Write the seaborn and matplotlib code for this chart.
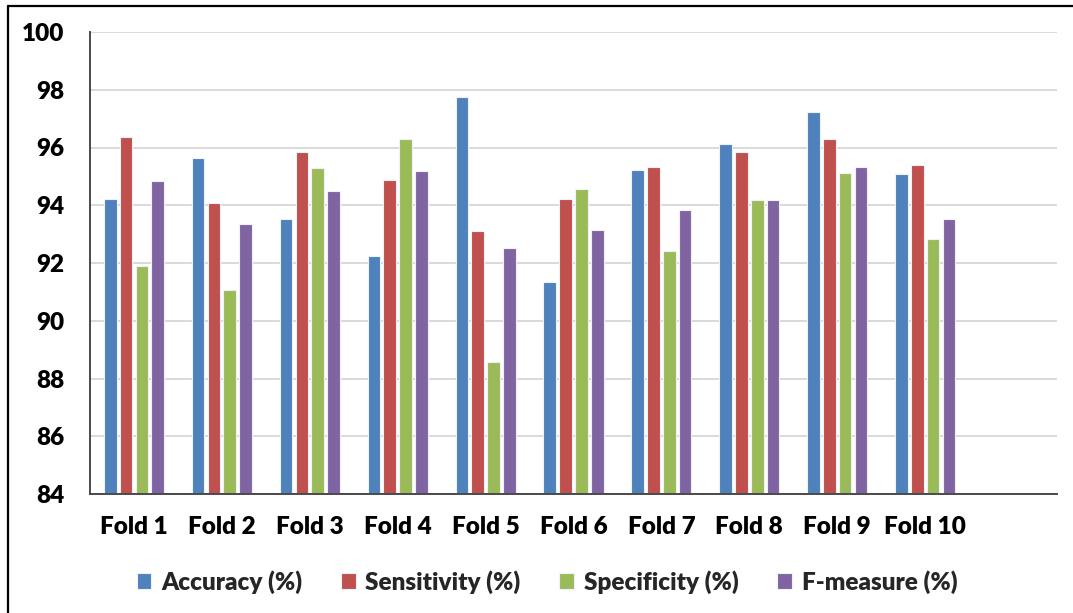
import matplotlib
matplotlib.use("Agg")
import matplotlib.pyplot as plt
from matplotlib.lines import Line2D
import pandas as pd
import seaborn as sns

# Per-fold cross-validation results (%)
folds = ["Fold 1", "Fold 2", "Fold 3", "Fold 4", "Fold 5",
         "Fold 6", "Fold 7", "Fold 8", "Fold 9", "Fold 10"]
accuracy = [94.23, 95.62, 93.51, 92.23, 97.74, 91.33, 95.23, 96.12, 97.24, 95.07]
sensitivity = [96.36, 94.08, 95.84, 94.89, 93.11, 94.23, 95.34, 95.84, 96.29, 95.40]
specificity = [91.90, 91.06, 95.29, 96.29, 88.58, 94.56, 92.40, 94.18, 95.12, 92.84]
f_measure = [94.84, 93.35, 94.51, 95.17, 92.51, 93.13, 93.85, 94.18, 95.34, 93.51]

metrics = ["Accuracy (%)", "Sensitivity (%)", "Specificity (%)", "F-measure (%)"]
colors = ["#4F81BD", "#C0504D", "#9BBB59", "#8064A2"]
y_ticks = [84, 86, 88, 90, 92, 94, 96, 98, 100]

df = pd.DataFrame({
    "fold": folds * 4,
    "metric": [m for m in metrics for _ in folds],
    "value": accuracy + sensitivity + specificity + f_measure,
})

sns.set_theme(style="white")
plt.rcParams["font.family"] = ["Lato", "DejaVu Sans"]
WEIGHT = "heavy"

fig = plt.figure(figsize=(10.73, 6.13), dpi=100)
ax = fig.add_axes([90 / 1073, 1 - 494 / 613, (1057 - 90) / 1073, (494 - 32) / 613])

sns.barplot(data=df, x="fold", y="value", hue="metric", order=folds,
            hue_order=metrics, palette=colors, width=0.72, gap=0.2,
            edgecolor="#EEF2F8", linewidth=0.8, saturation=1, ax=ax,
            zorder=3)

ax.set_xlim(-0.5, 10.5)
ax.set_ylim(84, 100)
ax.set_yticks(y_ticks)
ax.set_yticklabels([str(t) for t in y_ticks])
ax.set_xlabel("")
ax.set_ylabel("")

ax.grid(axis="y", color="#D9D9D9", linewidth=1.4, zorder=0)
ax.grid(axis="x", visible=False)
for side in ["top", "right"]:
    ax.spines[side].set_visible(False)
for side in ["left", "bottom"]:
    ax.spines[side].set_color("#4A4A4A")
    ax.spines[side].set_linewidth(1.4)
    ax.spines[side].set_zorder(4)

ax.tick_params(axis="y", length=0, pad=18.5, labelsize=17.5, labelcolor="black")
ax.tick_params(axis="x", length=0, pad=16, labelsize=17.5, labelcolor="black")
for lab in ax.get_xticklabels() + ax.get_yticklabels():
    lab.set_fontweight(WEIGHT)

handles, labels = ax.get_legend_handles_labels()
ax.legend_.remove()
fig.legend(handles, labels, loc="center", bbox_to_anchor=(547 / 1073, 1 - 582 / 613),
           ncol=4, frameon=False, prop={"size": 17.5, "weight": WEIGHT},
           handlelength=0.6, handleheight=0.6, handletextpad=0.4,
           columnspacing=1.6)

# frame edges along the top and left of the figure
fig.add_artist(Line2D([8 / 1073, 1], [1 - 6 / 613, 1 - 6 / 613], color="black",
                      linewidth=1.6, transform=fig.transFigure))
fig.add_artist(Line2D([8 / 1073, 8 / 1073], [0, 1 - 6 / 613], color="black",
                      linewidth=1.6, transform=fig.transFigure))

fig.savefig("out.png", dpi=100)
